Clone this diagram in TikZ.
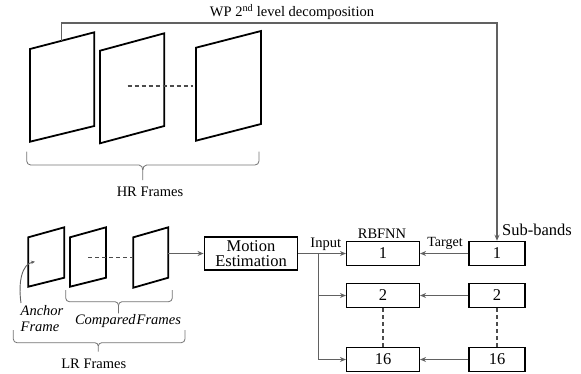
\documentclass[tikz,border=0pt]{standalone}
\usepackage{fontspec}
\setmainfont{Liberation Serif}
\usetikzlibrary{arrows.meta}
\begin{document}
\begin{tikzpicture}[x=1pt,y=-1pt,
  frame/.style={draw=black,line width=1.8pt,line join=miter},
  box/.style={draw=black,line width=1.5pt,rectangle,inner sep=0pt,font=\fontsize{16.5}{16.5}\selectfont},
  conn/.style={draw=black!62,line width=1.4pt},
  arr/.style={conn,-{Stealth[length=6pt,width=5pt]}},
  brc/.style={draw=black!55,line width=0.8pt},
  dsh/.style={draw=black!70,line width=1.2pt,dash pattern=on 4pt off 3pt},
  lbl/.style={font=\fontsize{14.5}{14.5}\selectfont,inner sep=0pt},
  ilbl/.style={font=\fontsize{14.5}{16}\selectfont\itshape,inner sep=0pt}]
\useasboundingbox (0,0) rectangle (581,373);

% HR frames
\draw[frame] (30,49) -- (94.3,32.3) -- (94.3,126) -- (30,141.7) -- cycle;
\draw[frame] (100,50.7) -- (164.3,33.3) -- (164.3,126) -- (100,143.3) -- cycle;
\draw[frame] (196,47.7) -- (261,31) -- (261,124) -- (196,140.7) -- cycle;
\draw[dsh] (127.7,86) -- (192.7,86);

% HR brace
\draw[brc] (26.7,151.7) -- (26.7,161) to[out=-90,in=180] (30.7,165) -- (139,165)
  to[out=0,in=90] (142.8,170) -- (142.8,180);
\draw[brc] (142.8,170) to[out=90,in=180] (146.6,165) -- (255,165) to[out=0,in=-90] (259,161) -- (259,151.7);
\node[lbl] (hrl) at (150,191.5) {HR Frames};

% LR frames
\draw[frame] (28.3,237.3) -- (64.3,227.3) -- (64.3,277.7) -- (28.3,286.7) -- cycle;
\draw[frame] (70,237.3) -- (106,227.3) -- (106,277.7) -- (70,286.7) -- cycle;
\draw[frame] (133.3,237.3) -- (168.3,227.3) -- (168.3,277.7) -- (133.3,287.7) -- cycle;
\draw[dsh] (88.3,257.7) -- (131.7,257.7);

% anchor arrow
\coordinate (anc0) at (21,303);
\coordinate (anc1) at (35,261.7);
\draw[conn,line width=0.9pt,-{Stealth[length=4pt,width=3.5pt]}] (anc0) .. controls (18,282) and (22,264) .. (anc1);
\node[ilbl,anchor=west,align=left] (anchor) at (20.5,319) {Anchor\\Frame};

% compared brace
\draw[brc] (65.7,290) -- (65.7,298) to[out=-90,in=180] (69.4,301.7) -- (115,301.7)
  to[out=0,in=90] (118.5,305.5) -- (118.5,313.3);
\draw[brc] (118.5,305.5) to[out=90,in=180] (122,301.7) -- (168.6,301.7) to[out=0,in=-90] (172.3,298) -- (172.3,290);
\node[ilbl] (cmp) at (128,321) {Compared\hspace{1pt}Frames};

% LR brace
\draw[brc] (13.3,330) -- (13.3,339) to[out=-90,in=180] (17,342.7) -- (94.8,342.7)
  to[out=0,in=90] (98.3,346) -- (98.3,351.7);
\draw[brc] (98.3,346) to[out=90,in=180] (101.8,342.7) -- (181.3,342.7) to[out=0,in=-90] (185,339) -- (185,330);
\node[lbl] (lrl) at (93.8,363.5) {LR Frames};

% motion estimation
\node[box,minimum width=93.4pt,minimum height=33.4pt,align=center,font=\fontsize{16.5}{15.5}\selectfont] (me) at (251,253.5) {Motion\\Estimation};
\coordinate (lrout) at (168.3,253.5);
\draw[arr] (lrout) -- (me.west);

% RBFNN boxes
\node[box,minimum width=72.6pt,minimum height=24pt] (r1) at (383,253.5) {1};
\node[box,minimum width=72.6pt,minimum height=24pt] (r2) at (383,295.5) {2};
\node[box,minimum width=72.6pt,minimum height=24pt] (r16) at (383,359.5) {16};
% sub-band boxes
\node[box,minimum width=56pt,minimum height=24pt] (s1) at (497,253.5) {1};
\node[box,minimum width=56pt,minimum height=24pt] (s2) at (497,295.5) {2};
\node[box,minimum width=56pt,minimum height=24pt] (s16) at (497,359.5) {16};

\node[lbl] (rbf) at (382,233.3) {RBFNN};
\node[lbl] (inp) at (325.8,244.5) {Input};
\node[lbl,font=\fontsize{14}{14}\selectfont] (tgt) at (445,243.5) {Target};
\node[lbl,font=\fontsize{16.5}{16.5}\selectfont] (sbl) at (537,230) {Sub-bands};

% input connectors
\draw[arr] (me.east) -- (r1.west);
\coordinate (br) at (318.3,253.5);
\draw[arr] (br) |- (r16.west);
\draw[arr] (br |- r2.west) -- (r2.west);

% target connectors
\draw[arr] (s1.west) -- (r1.east);
\draw[arr] (s2.west) -- (r2.east);
\draw[arr] (s16.west) -- (r16.east);

\draw[dsh] (r2.south) -- (r16.north);
\draw[dsh] (s2.south) -- (s16.north);

% top line
\coordinate (hrtap) at (61.7,40.8);
\coordinate (topy) at (0,23);
\draw[arr] (hrtap) -- (hrtap |- topy) -| (s1.north);
\node[lbl] (wp) at (292,12) {WP 2\textsuperscript{nd} level decomposition};
\end{tikzpicture}
\end{document}
